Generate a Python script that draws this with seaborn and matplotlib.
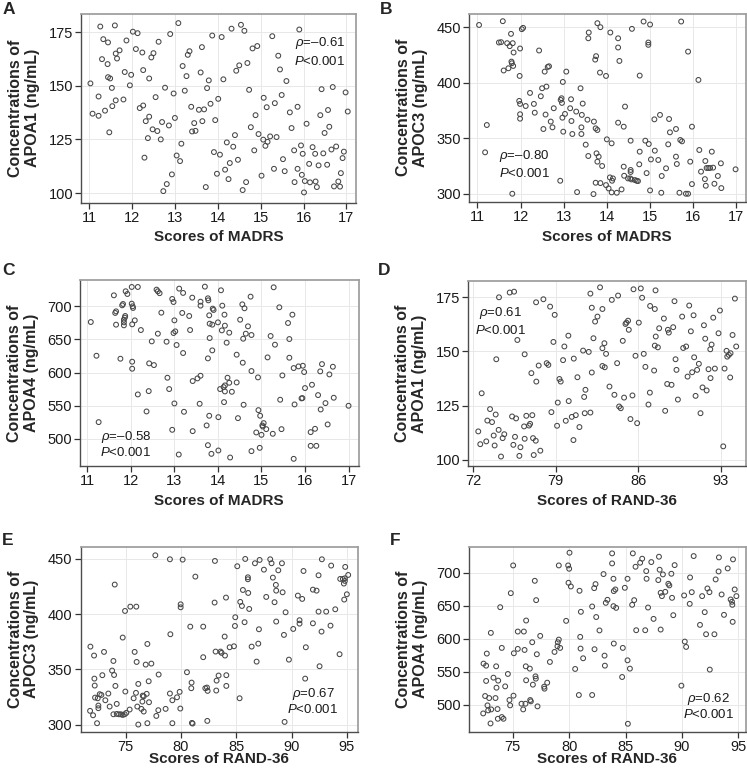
import matplotlib
matplotlib.use("Agg")
import matplotlib.pyplot as plt
import pandas as pd
import seaborn as sns

# (score, concentration) pairs
A_points = [
    (11.03, 151.1), (11.08, 137.0), (11.22, 145.0), (11.22, 136.0), (11.26, 177.6), (11.30, 162.4),
    (11.33, 171.7), (11.37, 138.4), (11.43, 160.1), (11.44, 170.2), (11.44, 154.0), (11.49, 153.4),
    (11.47, 128.3), (11.53, 149.0), (11.54, 140.5), (11.60, 178.1), (11.62, 165.0), (11.65, 162.7),
    (11.62, 143.2), (11.71, 166.5), (11.80, 143.6), (11.83, 156.4), (11.87, 171.1), (11.95, 150.2),
    (11.98, 155.1), (12.02, 175.2), (12.09, 167.1), (12.13, 174.5), (12.18, 139.6), (12.24, 165.5),
    (12.26, 140.8), (12.26, 157.3), (12.29, 116.5), (12.32, 133.5), (12.37, 125.6), (12.40, 135.6),
    (12.40, 153.4), (12.45, 163.2), (12.50, 165.2), (12.48, 129.7), (12.55, 144.7), (12.59, 128.9),
    (12.62, 170.5), (12.67, 125.0), (12.70, 133.1), (12.73, 100.9), (12.77, 149.1), (12.81, 104.2),
    (12.86, 131.5), (12.89, 174.1), (12.93, 108.7), (12.97, 146.4), (13.00, 135.0), (13.04, 117.5),
    (13.08, 179.2), (13.12, 114.9), (13.15, 123.0), (13.18, 159.2), (13.23, 147.7), (13.27, 154.5),
    (13.30, 164.4), (13.34, 166.1), (13.38, 140.2), (13.40, 128.7), (13.45, 132.6), (13.48, 129.0),
    (13.56, 138.8), (13.60, 156.2), (13.63, 168.0), (13.64, 133.5), (13.68, 139.0), (13.72, 102.8),
    (13.75, 148.9), (13.79, 152.5), (13.83, 141.6), (13.87, 173.4), (13.91, 119.1), (13.94, 134.0),
    (13.98, 109.0), (14.01, 143.9), (14.05, 117.9), (14.09, 172.7), (14.13, 153.0), (14.17, 110.9),
    (14.21, 123.6), (14.25, 106.5), (14.28, 114.0), (14.32, 176.6), (14.36, 121.6), (14.40, 127.0),
    (14.43, 157.0), (14.47, 115.5), (14.50, 159.5), (14.54, 178.4), (14.58, 101.4), (14.62, 175.6),
    (14.66, 105.1), (14.69, 160.6), (14.73, 148.1), (14.77, 130.7), (14.81, 167.4), (14.85, 119.9),
    (14.88, 136.3), (14.92, 168.5), (14.95, 127.5), (15.02, 108.1), (15.06, 124.9), (15.07, 144.4),
    (15.11, 122.0), (15.14, 140.0), (15.16, 123.9), (15.22, 126.4), (15.27, 173.1), (15.31, 111.3),
    (15.33, 141.9), (15.37, 126.1), (15.41, 164.0), (15.45, 157.6), (15.49, 145.7), (15.52, 115.8),
    (15.56, 110.2), (15.60, 152.2), (15.68, 137.6), (15.72, 130.3), (15.78, 119.9), (15.79, 105.1),
    (15.86, 111.3), (15.86, 140.2), (15.90, 176.2), (15.94, 122.2), (15.96, 108.5), (15.98, 118.3),
    (16.01, 100.3), (16.03, 105.6), (16.07, 132.3), (16.13, 113.6), (16.15, 105.0), (16.21, 121.4),
    (16.27, 118.3), (16.28, 105.4), (16.31, 102.8), (16.35, 112.9), (16.39, 136.3), (16.42, 148.4),
    (16.46, 118.5), (16.49, 128.0), (16.55, 113.2), (16.57, 138.7), (16.60, 130.9), (16.65, 120.3),
    (16.68, 149.4), (16.71, 103.1), (16.76, 121.7), (16.81, 105.4), (16.85, 103.0), (16.87, 109.3),
    (16.91, 116.3), (16.94, 119.3), (16.98, 146.9), (17.03, 138.0),
]

B_points = [
    (11.04, 452.0), (11.18, 337.3), (11.22, 361.9), (11.59, 455.4), (11.50, 436.2), (11.55, 436.5),
    (11.69, 435.6), (11.75, 432.9), (11.78, 444.0), (11.82, 435.6), (11.84, 427.2), (11.79, 419.0),
    (11.80, 417.5), (11.83, 415.1), (11.61, 411.0), (11.72, 413.0), (11.81, 300.0), (11.99, 430.8),
    (12.03, 448.2), (12.06, 449.4), (11.98, 406.1), (11.97, 383.6), (11.99, 380.9), (11.99, 371.6),
    (11.99, 367.6), (12.12, 379.0), (12.22, 390.8), (12.31, 380.9), (12.33, 373.0), (12.43, 429.0),
    (12.47, 387.8), (12.50, 395.0), (12.53, 358.3), (12.56, 410.0), (12.58, 371.3), (12.60, 396.5),
    (12.63, 414.2), (12.66, 414.8), (12.70, 365.0), (12.74, 359.8), (12.77, 377.0), (12.93, 384.5),
    (12.92, 311.7), (12.95, 386.0), (12.96, 381.8), (12.97, 368.5), (12.98, 400.7), (12.99, 355.9),
    (13.03, 371.9), (13.06, 410.0), (13.15, 377.0), (13.17, 385.1), (13.18, 365.5), (13.20, 353.8),
    (13.29, 374.0), (13.31, 301.5), (13.39, 395.0), (13.42, 371.0), (13.41, 359.8), (13.41, 353.8),
    (13.44, 381.2), (13.51, 344.2), (13.57, 440.0), (13.58, 445.2), (13.55, 366.7), (13.57, 334.0),
    (13.70, 365.0), (13.69, 299.7), (13.73, 420.8), (13.75, 423.9), (13.74, 358.9), (13.78, 453.6),
    (13.78, 357.4), (13.76, 336.4), (13.78, 328.9), (13.81, 333.4), (13.74, 309.9), (13.84, 409.1),
    (13.85, 309.6), (13.85, 450.0), (13.89, 325.0), (13.98, 406.1), (14.00, 349.0), (13.98, 307.8),
    (14.04, 304.8), (14.08, 445.2), (14.07, 314.7), (14.11, 345.4), (14.12, 311.7), (14.14, 313.8),
    (14.11, 301.2), (14.23, 300.9), (14.26, 440.0), (14.26, 431.7), (14.26, 364.0), (14.29, 419.6),
    (14.34, 303.9), (14.39, 324.4), (14.39, 360.4), (14.40, 316.2), (14.42, 378.5), (14.49, 313.8),
    (14.54, 313.8), (14.57, 312.9), (14.55, 321.4), (14.55, 319.6), (14.55, 347.8), (14.58, 448.5),
    (14.65, 312.3), (14.69, 311.7), (14.72, 311.4), (14.75, 326.5), (14.76, 337.9), (14.76, 406.4),
    (14.85, 455.1), (14.89, 347.8), (14.92, 318.6), (14.96, 436.2), (14.96, 434.1), (14.97, 344.8),
    (15.00, 452.4), (15.00, 303.0), (15.02, 330.9), (15.11, 338.8), (15.10, 367.0), (15.19, 330.4),
    (15.23, 371.0), (15.27, 316.0), (15.26, 300.9), (15.37, 322.9), (15.42, 344.5), (15.44, 367.3),
    (15.46, 355.3), (15.60, 358.3), (15.60, 333.4), (15.62, 326.8), (15.70, 348.4), (15.74, 347.2),
    (15.72, 455.1), (15.68, 300.9), (15.83, 300.0), (15.88, 300.0), (15.88, 428.0), (15.93, 328.9),
    (15.97, 360.4), (15.97, 308.7), (16.12, 402.5), (16.14, 339.4), (16.18, 319.9), (16.27, 313.2),
    (16.28, 329.5), (16.31, 323.2), (16.35, 323.2), (16.39, 323.2), (16.46, 323.5), (16.29, 307.2),
    (16.43, 337.9), (16.49, 309.0), (16.57, 316.0), (16.64, 327.4), (16.65, 305.1), (16.98, 322.0),
]

C_points = [
    (11.08, 676.3), (11.21, 625.4), (11.26, 525.2), (11.61, 716.6), (11.64, 690.0), (11.66, 692.4),
    (11.66, 672.3), (11.76, 620.9), (11.80, 701.5), (11.82, 703.5), (11.84, 679.8), (11.84, 675.8),
    (11.84, 671.3), (11.86, 682.9), (11.87, 685.4), (11.88, 722.7), (11.92, 718.6), (12.02, 729.2),
    (12.16, 729.2), (12.02, 704.0), (12.04, 700.0), (12.05, 697.5), (12.03, 672.8), (12.03, 616.4),
    (12.03, 605.8), (12.09, 678.8), (12.16, 567.0), (12.23, 664.2), (12.36, 541.3), (12.41, 572.0),
    (12.42, 613.9), (12.48, 647.1), (12.53, 611.3), (12.59, 725.2), (12.62, 722.7), (12.66, 719.8),
    (12.62, 658.7), (12.70, 690.4), (12.82, 646.6), (12.84, 592.2), (12.88, 575.1), (12.95, 513.6),
    (13.00, 553.4), (12.95, 711.1), (12.98, 706.5), (13.00, 678.8), (12.98, 659.7), (13.02, 662.2),
    (13.05, 641.6), (13.10, 476.3), (13.11, 726.7), (13.18, 690.0), (13.20, 720.2), (13.20, 629.5),
    (13.22, 540.8), (13.34, 685.4), (13.36, 664.2), (13.41, 713.1), (13.42, 587.2), (13.42, 511.6),
    (13.53, 591.2), (13.60, 595.2), (13.58, 552.9), (13.60, 707.0), (13.60, 701.0), (13.70, 729.7),
    (13.74, 520.2), (13.77, 712.1), (13.78, 709.0), (13.77, 621.4), (13.77, 490.4), (13.80, 686.4),
    (13.81, 673.8), (13.81, 652.1), (13.80, 534.8), (13.87, 672.3), (13.85, 477.3), (13.88, 696.5),
    (13.90, 694.5), (13.87, 633.5), (14.00, 675.8), (14.01, 532.7), (14.01, 482.4), (14.05, 575.1),
    (14.07, 724.2), (14.09, 663.7), (14.10, 701.0), (14.13, 578.1), (14.16, 571.5), (14.16, 580.6),
    (14.14, 555.4), (14.15, 687.4), (14.16, 670.8), (14.20, 645.1), (14.22, 592.2), (14.26, 584.6),
    (14.26, 660.2), (14.28, 471.8), (14.32, 571.0), (14.43, 627.0), (14.43, 585.1), (14.46, 531.2),
    (14.51, 679.8), (14.56, 703.0), (14.57, 614.9), (14.58, 651.1), (14.59, 551.4), (14.61, 697.0),
    (14.64, 658.7), (14.69, 669.8), (14.75, 714.6), (14.77, 602.3), (14.77, 656.7), (14.77, 481.4),
    (14.88, 509.6), (14.92, 592.7), (14.93, 543.3), (14.97, 534.8), (14.96, 486.4), (15.00, 506.0),
    (15.03, 518.6), (15.05, 523.7), (15.02, 520.2), (15.11, 514.6), (15.14, 622.9), (15.21, 655.2),
    (15.28, 728.7), (15.26, 507.6), (15.31, 642.1), (15.41, 698.5), (15.43, 559.0), (15.46, 514.6),
    (15.48, 595.7), (15.61, 674.8), (15.64, 650.6), (15.64, 622.4), (15.71, 687.4), (15.74, 606.8),
    (15.76, 551.9), (15.74, 469.8), (15.85, 609.3), (15.92, 561.0), (15.94, 561.5), (15.95, 610.3),
    (15.98, 600.8), (16.00, 576.6), (16.16, 581.6), (16.13, 510.1), (16.13, 489.4), (16.23, 515.1),
    (16.26, 489.4), (16.30, 566.0), (16.35, 601.8), (16.36, 544.3), (16.39, 612.8), (16.47, 553.9),
    (16.52, 521.7), (16.56, 597.2), (16.64, 608.8), (16.66, 562.0), (17.00, 549.9),
]

D_points = [
    (72.42, 113.1), (72.59, 107.2), (72.71, 130.7), (73.10, 108.5), (73.19, 118.1), (73.42, 123.4),
    (73.59, 117.4), (73.73, 111.2), (73.81, 106.6), (73.90, 120.9), (73.95, 146.4), (74.15, 113.8),
    (74.18, 175.0), (74.35, 101.5), (74.49, 110.0), (74.63, 111.8), (75.09, 177.2), (75.29, 120.0),
    (75.40, 106.9), (75.46, 177.6), (75.54, 110.6), (75.63, 119.1), (75.74, 155.3), (75.91, 101.8),
    (76.00, 105.8), (76.31, 115.4), (76.36, 148.7), (76.36, 109.7), (76.50, 120.3), (76.73, 115.8),
    (76.82, 116.6), (76.93, 140.0), (77.01, 120.6), (77.07, 110.0), (77.13, 102.2), (77.30, 108.8),
    (77.35, 136.1), (77.33, 172.7), (77.55, 143.5), (77.69, 104.2), (77.95, 174.1), (78.23, 144.6),
    (78.37, 143.8), (78.52, 170.7), (78.63, 122.0), (78.80, 154.4), (78.91, 166.9), (79.11, 115.7),
    (79.17, 126.4), (79.31, 137.3), (79.42, 136.1), (79.62, 146.0), (79.73, 152.3), (79.85, 118.0),
    (80.07, 157.3), (80.10, 127.1), (80.36, 119.8), (80.50, 109.1), (80.53, 146.7), (80.70, 120.6),
    (80.84, 138.1), (81.01, 115.1), (81.32, 150.4), (81.41, 129.0), (81.52, 132.3), (81.46, 121.5),
    (81.80, 149.8), (81.94, 121.8), (81.94, 176.7), (82.06, 170.2), (82.06, 140.3), (82.20, 156.1),
    (82.34, 163.8), (82.54, 166.1), (82.76, 179.6), (82.96, 151.5), (82.96, 169.6), (82.96, 143.3),
    (83.16, 142.7), (83.13, 153.8), (83.27, 148.9), (83.56, 133.8), (83.76, 173.8), (83.98, 130.0),
    (84.21, 144.6), (84.29, 175.8), (84.38, 124.6), (84.52, 123.8), (84.69, 154.9), (84.80, 128.7),
    (84.92, 162.7), (85.00, 163.3), (85.14, 164.2), (85.20, 160.0), (85.34, 118.8), (85.51, 129.7),
    (85.60, 178.7), (85.77, 148.0), (85.91, 116.9), (86.05, 163.3), (86.22, 179.1), (86.33, 174.8),
    (86.47, 148.9), (86.61, 142.9), (86.87, 125.5), (86.99, 131.0), (87.01, 171.0), (87.35, 141.2),
    (87.41, 169.6), (87.41, 152.7), (87.49, 156.9), (87.47, 178.2), (87.67, 151.9), (87.78, 160.7),
    (88.18, 165.2), (88.29, 122.6), (88.46, 135.0), (88.83, 134.6), (88.52, 160.0), (88.60, 158.7),
    (88.97, 161.2), (89.08, 173.2), (89.17, 146.4), (89.25, 141.5), (89.37, 127.8), (89.73, 166.1),
    (89.82, 151.6), (90.07, 152.3), (90.19, 138.4), (90.33, 171.2), (90.47, 159.3), (90.58, 140.4),
    (90.70, 166.7), (90.75, 147.3), (90.87, 129.5), (91.00, 141.5), (91.15, 144.3), (91.29, 121.5),
    (91.46, 133.4), (91.58, 162.1), (91.69, 155.9), (91.81, 132.0), (91.97, 141.8), (92.12, 151.0),
    (92.14, 137.7), (92.23, 153.2), (92.37, 165.6), (92.51, 142.1), (92.82, 158.4), (92.94, 168.9),
    (93.22, 106.2), (93.33, 142.1), (93.50, 150.3), (93.70, 148.4), (93.56, 147.6), (93.84, 149.2),
    (93.81, 138.0), (94.01, 157.6), (94.21, 174.4), (94.32, 152.3),
]

E_points = [
    (71.81, 370.6), (71.78, 312.4), (72.05, 308.4), (72.14, 362.5), (72.17, 341.6), (72.20, 335.3),
    (72.23, 324.4), (72.41, 301.2), (72.47, 323.8), (72.53, 317.2), (72.53, 314.8), (72.65, 327.5),
    (72.80, 326.8), (72.89, 344.7), (73.04, 365.8), (73.16, 322.0), (73.43, 328.1), (73.55, 316.3),
    (73.77, 348.9), (73.89, 357.6), (73.95, 344.9), (73.89, 309.3), (74.07, 335.0), (74.01, 426.8),
    (74.19, 318.7), (74.19, 309.6), (74.40, 309.3), (74.58, 309.3), (74.73, 378.8), (74.73, 308.7),
    (74.91, 309.3), (74.97, 329.9), (75.06, 310.6), (74.94, 402.9), (75.36, 313.6), (75.42, 406.8),
    (75.72, 323.8), (75.81, 365.8), (75.93, 328.7), (75.96, 406.8), (75.99, 356.7), (76.05, 316.3),
    (76.14, 300.0), (76.14, 336.8), (76.42, 314.2), (76.51, 320.8), (76.54, 326.2), (76.63, 325.6),
    (76.63, 311.8), (76.81, 354.3), (76.90, 327.8), (76.96, 373.0), (76.96, 301.2), (77.08, 339.2),
    (77.11, 320.2), (77.32, 355.2), (77.68, 453.3), (77.77, 307.8), (77.95, 313.0), (77.98, 345.3),
    (78.61, 314.2), (79.00, 328.1), (79.00, 449.7), (79.04, 381.8), (79.22, 301.2), (79.22, 322.0),
    (79.64, 324.7), (79.88, 329.6), (79.94, 314.5), (79.97, 408.9), (79.97, 406.2), (80.15, 449.4),
    (80.54, 347.4), (80.84, 388.7), (80.93, 332.9), (80.96, 338.0), (80.99, 301.5), (81.05, 300.9),
    (81.30, 434.0), (82.01, 388.7), (82.01, 361.0), (82.20, 332.9), (82.35, 333.5), (82.41, 330.5),
    (82.38, 303.3), (83.04, 410.5), (83.07, 448.2), (83.13, 366.1), (83.19, 330.8), (83.22, 339.8),
    (83.40, 344.4), (83.58, 366.1), (83.67, 364.9), (83.95, 379.7), (83.98, 362.5), (84.07, 415.0),
    (84.10, 344.7), (84.10, 335.0), (84.40, 370.0), (84.79, 370.9), (84.88, 389.3), (84.91, 397.2),
    (85.09, 443.4), (85.30, 323.8), (85.36, 411.1), (85.51, 407.4), (85.60, 421.9), (85.75, 392.7),
    (85.81, 450.0), (86.05, 433.4), (86.05, 431.6), (86.08, 419.2), (86.17, 404.7), (86.39, 370.6),
    (86.69, 446.1), (86.84, 357.0), (86.99, 373.3), (87.05, 386.3), (87.11, 449.1), (87.50, 440.3),
    (87.71, 415.6), (88.07, 449.7), (88.19, 446.1), (88.31, 433.1), (88.46, 410.8), (88.58, 426.5),
    (88.61, 421.3), (88.61, 393.3), (88.80, 439.7), (89.13, 446.1), (89.19, 419.8), (89.31, 381.2),
    (89.37, 302.4), (89.46, 401.7), (89.76, 358.8), (90.15, 386.6), (90.57, 416.8), (90.72, 394.5),
    (90.72, 391.4), (90.96, 413.8), (91.08, 439.1), (91.23, 341.6), (91.29, 370.0), (91.93, 391.7),
    (91.93, 422.2), (92.26, 421.3), (92.44, 435.2), (92.44, 402.3), (92.53, 352.8), (92.71, 384.2),
    (92.74, 449.7), (93.13, 402.3), (93.52, 389.6), (93.58, 444.0), (93.95, 404.4), (94.34, 363.7),
    (94.40, 431.9), (94.64, 431.9), (94.82, 432.5), (94.73, 427.7), (94.82, 430.1), (94.85, 442.8),
    (94.76, 413.2), (95.00, 418.0), (95.12, 435.5),
]

F_points = [
    (72.37, 486.8), (72.40, 562.3), (72.63, 559.2), (72.63, 536.0), (72.69, 577.5), (72.54, 513.2),
    (72.75, 499.0), (72.81, 491.4), (72.90, 510.1), (73.05, 608.9), (73.08, 492.9), (73.02, 471.6),
    (73.28, 541.0), (73.46, 510.1), (73.52, 558.2), (73.55, 525.8), (73.64, 493.4), (73.70, 536.5),
    (73.67, 478.7), (73.88, 647.8), (74.02, 586.1), (74.02, 481.3), (74.17, 478.7), (74.32, 527.8),
    (74.56, 546.6), (74.70, 507.1), (74.76, 499.0), (74.82, 669.1), (75.03, 711.1), (75.06, 513.7),
    (75.09, 578.0), (75.44, 610.9), (75.44, 584.6), (75.77, 501.5), (75.92, 492.9), (75.98, 610.9),
    (76.04, 583.0), (76.12, 501.5), (76.15, 558.2), (76.18, 627.6), (76.18, 537.0), (76.51, 554.7),
    (76.54, 507.1), (76.60, 505.1), (76.72, 594.7), (76.78, 530.4), (76.95, 687.8), (77.01, 543.0),
    (77.04, 539.5), (77.07, 658.5), (77.13, 576.5), (77.19, 497.5), (77.43, 604.3), (77.78, 527.3),
    (77.81, 524.3), (78.05, 533.4), (78.29, 564.8), (78.70, 580.0), (78.96, 588.6), (78.99, 594.7),
    (79.08, 598.7), (79.20, 586.1), (79.08, 711.1), (79.73, 627.1), (79.91, 711.1), (80.00, 706.1),
    (80.03, 730.4), (79.94, 684.8), (80.15, 679.2), (80.53, 554.2), (80.86, 514.7), (80.92, 672.7),
    (80.98, 602.8), (81.01, 585.1), (81.04, 640.8), (81.24, 570.4), (82.04, 514.7), (82.04, 648.9),
    (82.22, 676.7), (82.34, 682.8), (82.25, 584.1), (82.40, 632.9), (82.69, 612.6), (83.05, 698.0),
    (83.14, 574.4), (83.17, 559.2), (83.25, 654.4), (83.40, 659.0), (83.81, 729.4), (83.81, 714.2),
    (83.93, 690.9), (83.96, 672.2), (84.10, 674.7), (83.93, 649.4), (84.17, 646.8), (83.96, 592.7),
    (84.76, 586.1), (84.94, 677.2), (85.18, 690.9), (85.18, 567.3), (85.39, 554.7), (85.21, 471.1),
    (84.70, 542.0), (85.65, 729.4), (85.59, 651.4), (85.77, 658.5), (85.89, 709.1), (85.95, 612.9),
    (86.30, 715.2), (86.48, 721.3), (86.75, 612.9), (86.84, 702.5), (86.87, 690.9), (87.00, 647.3),
    (87.29, 716.2), (87.49, 630.1), (87.91, 688.9), (87.97, 724.3), (88.03, 704.6), (88.12, 669.6),
    (88.23, 664.6), (88.32, 697.5), (88.12, 613.9), (88.53, 671.1), (88.80, 683.3), (88.89, 680.8),
    (89.07, 698.5), (89.13, 662.0), (89.24, 635.7), (89.36, 711.6), (89.96, 528.9), (90.26, 595.7),
    (90.38, 587.6), (90.20, 665.6), (90.73, 692.9), (90.88, 670.6), (90.70, 652.9), (91.05, 725.3),
    (91.61, 621.0), (91.80, 664.6), (92.03, 640.3), (92.15, 606.8), (92.27, 676.2), (92.45, 670.6),
    (92.48, 553.2), (92.89, 606.8), (93.00, 689.9), (93.26, 702.0), (93.29, 723.3), (93.53, 667.1),
    (93.74, 636.2), (94.07, 706.6), (94.33, 659.5), (94.45, 656.0), (94.48, 651.4), (94.51, 625.6),
    (94.54, 720.3), (94.69, 674.7), (94.84, 664.6),
]

madrs_ticks = [11, 12, 13, 14, 15, 16, 17]
rand_ticks_d = [72, 79, 86, 93]
rand_ticks = [75, 80, 85, 90, 95]
apoa1_ticks = [100, 125, 150, 175]
apoc3_ticks = [300, 350, 400, 450]
apoa4_ticks = [500, 550, 600, 650, 700]

rho_labels = {"A": "\u20130.61", "B": "\u20130.80", "C": "\u20130.58",
              "D": "0.61", "E": "0.67", "F": "0.62"}

panels = [
    # letter, points, protein, scale, xticks, yticks, xlim, ylim, axes rect, text pos, xlabel pad
    ("A", A_points, "APOA1", "MADRS", madrs_ticks, apoa1_ticks, (10.82, 17.23), (95.6, 183.5),
     [0.109, 0.737, 0.368, 0.245], (0.868, 0.846, 0.746), 4),
    ("B", B_points, "APOC3", "MADRS", madrs_ticks, apoc3_ticks, (10.81, 17.21), (292.8, 462.0),
     [0.628, 0.738, 0.370, 0.244], (0.20, 0.245, 0.151), 4),
    ("C", C_points, "APOA4", "MADRS", madrs_ticks, apoa4_ticks, (10.83, 17.23), (459.2, 739.3),
     [0.107, 0.395, 0.373, 0.241], (0.165, 0.158, 0.072), 4),
    ("D", D_points, "APOA1", "RAND-36", rand_ticks_d, apoa1_ticks, (71.58, 95.11), (97.2, 182.5),
     [0.627, 0.395, 0.371, 0.240], (0.1155, 0.825, 0.735), 4),
    ("E", E_points, "APOC3", "RAND-36", rand_ticks, apoc3_ticks, (70.93, 95.99), (293.7, 461.1),
     [0.108, 0.050, 0.371, 0.240], (0.838, 0.202, 0.117), -1),
    ("F", F_points, "APOA4", "RAND-36", rand_ticks, apoa4_ticks, (71.12, 95.65), (459.4, 739.5),
     [0.628, 0.050, 0.370, 0.240], (0.867, 0.176, 0.091), -1),
]

letter_pos = {"A": (0.003, 0.998), "B": (0.508, 0.998), "C": (0.003, 0.658),
              "D": (0.506, 0.658), "E": (0.003, 0.308), "F": (0.522, 0.308)}

sns.set_theme(style="whitegrid")
plt.rcParams["font.family"] = ["Liberation Sans", "DejaVu Sans"]
plt.rcParams["mathtext.fontset"] = "custom"
plt.rcParams["mathtext.rm"] = "Liberation Sans"
plt.rcParams["mathtext.it"] = "Liberation Sans:italic"

fig = plt.figure(figsize=(7.47, 7.70), dpi=100)

for letter, pts, protein, scale, xt, yt, xlim, ylim, rect, tpos, xpad in panels:
    ax = fig.add_axes(rect)
    df = pd.DataFrame(pts, columns=["score", "conc"])
    sns.scatterplot(data=df, x="score", y="conc", ax=ax, s=12, marker="o",
                    facecolors="none", edgecolor="#474747", linewidth=0.75)
    ax.set_xlim(*xlim)
    ax.set_ylim(*ylim)
    ax.set_xticks(xt)
    ax.set_yticks(yt)
    ax.grid(True, color="#e8e8e8", linewidth=0.7)
    ax.set_facecolor("white")
    for side in ["top", "right"]:
        ax.spines[side].set_color("#a0a0a0")
        ax.spines[side].set_linewidth(1.3)
    for side in ["left", "bottom"]:
        ax.spines[side].set_color("#4d4d4d")
        ax.spines[side].set_linewidth(1.0)
    ax.tick_params(axis="both", bottom=True, left=True, direction="out", length=4,
                   width=0.9, color="#333333", labelsize=10.5, labelcolor="#1a1a1a", pad=2)
    ax.set_xlabel(f"Scores of {scale}", fontsize=11, fontweight="bold", labelpad=xpad)
    ax.set_ylabel(f"Concentrations of\n{protein} (ng/mL)", fontsize=11.5,
                  fontweight="bold", labelpad=6, linespacing=1.15)
    tx, ty1, ty2 = tpos
    ax.text(tx, ty1, r"$\mathit{\rho}$=" + rho_labels[letter], transform=ax.transAxes,
            ha="center", va="center", fontsize=9.5, color="#1a1a1a")
    ax.text(tx, ty2, r"$\mathit{P}$<0.001", transform=ax.transAxes,
            ha="center", va="center", fontsize=9.5, color="#1a1a1a")
    lx, ly = letter_pos[letter]
    fig.text(lx, ly, letter, fontsize=12.5, fontweight="bold", ha="left", va="top")

fig.savefig("out.png", dpi=100)
